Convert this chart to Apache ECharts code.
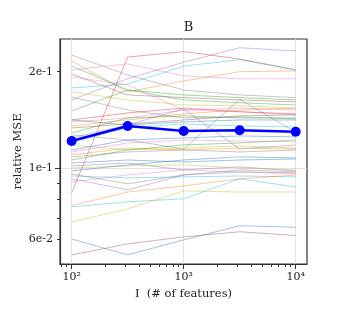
<!DOCTYPE html>
<html>
<head>
<meta charset="utf-8">
<script src="https://cdn.jsdelivr.net/npm/echarts@6/dist/echarts.min.js"></script>
<style>
html, body { margin: 0; padding: 0; background: #fff; }
#chart { width: 341px; height: 331px; }
</style>
</head>
<body>
<div id="chart"></div>
<script>
// x positions (number of features) and the mean curve
var featureCounts = [100, 316, 1000, 3162, 10000];
var meanMSE = [0.1216, 0.1354, 0.1307, 0.1313, 0.1300];

// individual runs, one row per thin line
var runs = [
  [0.2254, 0.1953, 0.1754, 0.1692, 0.1660],
  [0.2160, 0.1730, 0.1870, 0.2000, 0.2010],
  [0.0838, 0.2220, 0.2310, 0.2190, 0.2025],
  [0.2085, 0.1754, 0.1633, 0.1600, 0.1575],
  [0.2025, 0.2115, 0.1940, 0.1900, 0.1900],
  [0.1633, 0.1900, 0.2140, 0.2375, 0.2320],
  [0.1780, 0.1830, 0.2080, 0.2180, 0.2025],
  [0.1967, 0.1692, 0.1660, 0.1633, 0.1610],
  [0.1925, 0.1818, 0.1519, 0.1500, 0.1466],
  [0.1730, 0.1633, 0.1575, 0.1565, 0.1540],
  [0.1667, 0.1519, 0.1435, 0.1445, 0.1425],
  [0.1508, 0.1754, 0.1692, 0.1660, 0.1633],
  [0.1414, 0.1364, 0.1395, 0.1414, 0.1414],
  [0.1414, 0.1487, 0.1540, 0.1500, 0.1477],
  [0.1394, 0.1435, 0.1519, 0.1540, 0.1519],
  [0.1354, 0.1414, 0.1477, 0.1519, 0.1540],
  [0.1335, 0.1374, 0.1414, 0.1456, 0.1466],
  [0.1288, 0.1435, 0.1456, 0.1435, 0.1435],
  [0.1270, 0.1225, 0.1148, 0.1640, 0.1297],
  [0.1243, 0.1364, 0.1530, 0.1148, 0.1182],
  [0.1208, 0.1335, 0.1374, 0.1354, 0.1345],
  [0.1182, 0.1140, 0.1156, 0.1174, 0.1156],
  [0.1140, 0.1225, 0.1243, 0.1261, 0.1252],
  [0.1124, 0.1199, 0.1225, 0.1216, 0.1208],
  [0.1100, 0.1156, 0.1140, 0.1156, 0.1148],
  [0.1085, 0.1124, 0.1140, 0.1124, 0.1140],
  [0.1061, 0.1140, 0.1182, 0.1199, 0.1225],
  [0.1038, 0.1061, 0.1046, 0.1061, 0.1069],
  [0.1017, 0.1038, 0.0988, 0.1010, 0.0981],
  [0.1002, 0.1017, 0.1024, 0.1002, 0.0988],
  [0.0981, 0.1024, 0.1061, 0.1085, 0.1077],
  [0.0946, 0.0933, 0.0940, 0.0946, 0.0940],
  [0.0960, 0.0894, 0.0953, 0.0974, 0.0967],
  [0.0927, 0.0856, 0.0953, 0.0988, 0.0974],
  [0.0907, 0.0953, 0.0988, 0.0974, 0.0960],
  [0.0765, 0.0843, 0.0881, 0.0927, 0.0953],
  [0.0758, 0.0786, 0.0803, 0.0927, 0.0874],
  [0.0680, 0.0747, 0.0850, 0.0843, 0.0843],
  [0.0602, 0.0537, 0.0598, 0.0662, 0.0655],
  [0.0537, 0.0581, 0.0611, 0.0634, 0.0617]
];
var runColors = [
  '#7f7f7f', '#ff7f0e', '#d62728', '#2ca02c', '#e377c2', '#9467bd', '#17becf', '#8c564b',
  '#e377c2', '#bcbd22', '#7f7f7f', '#2ca02c', '#1f77b4', '#d62728', '#e377c2', '#ff7f0e',
  '#8c564b', '#2ca02c', '#7f7f7f', '#9467bd', '#17becf', '#bcbd22', '#1f77b4', '#e377c2',
  '#ff7f0e', '#7f7f7f', '#2ca02c', '#1f77b4', '#9467bd', '#bcbd22', '#1f77b4', '#17becf',
  '#7f7f7f', '#9467bd', '#e377c2', '#ff7f0e', '#17becf', '#bcbd22', '#1f77b4', '#8c564b'
];

// axis ranges and ticks
var xRange = [78.7, 12620];
var yRange = [0.0503, 0.2528];
var xMajorTicks = [100, 1000, 10000];
var xTickLabels = ['10\u00b2', '10\u00b3', '10\u2074'];
var xMinorTicks = [80, 90, 200, 300, 400, 500, 600, 700, 800, 900,
  2000, 3000, 4000, 5000, 6000, 7000, 8000, 9000];
var yGridTicks = [0.1];
var yLabelTicks = [0.06, 0.1, 0.2];
var yTickLabels = ['6e-2', '1e-1', '2e-1'];
var yMinorTicks = [0.06, 0.07, 0.08, 0.09, 0.2];

var lg = Math.log10;
var serif = 'DejaVu Serif';
var frame = '#333';

function pick(v, ticks, labels) {
  for (var i = 0; i < ticks.length; i++) {
    if (Math.abs(lg(ticks[i]) - v) < 1e-6) return labels[i];
  }
  return '';
}

function toPoints(ys) {
  return featureCounts.map(function (x, i) { return [lg(x), lg(ys[i])]; });
}

var series = runs.map(function (r, i) {
  return {
    type: 'line',
    data: toPoints(r),
    showSymbol: false,
    silent: true,
    animation: false,
    z: 2,
    lineStyle: { color: runColors[i], width: 0.8, opacity: 0.55 }
  };
});
series.push({
  type: 'line',
  data: toPoints(meanMSE),
  symbol: 'circle',
  symbolSize: 10,
  animation: false,
  z: 5,
  itemStyle: { color: '#0000ff' },
  lineStyle: { color: '#0000ff', width: 2.5 }
});

var chart = echarts.init(document.getElementById('chart'));
chart.setOption({
  backgroundColor: '#fff',
  title: {
    text: 'B', left: 183.5, top: 16, textAlign: 'center',
    textStyle: { fontFamily: serif, fontSize: 13, fontWeight: 'normal', color: '#222' }
  },
  grid: {
    left: 60, top: 39, width: 247, height: 225,
    outerBoundsMode: 'none', containLabel: false,
    show: true, borderColor: frame, borderWidth: 1.2
  },
  xAxis: [{
    type: 'value', min: lg(xRange[0]), max: lg(xRange[1]),
    name: 'I  (# of features)', nameLocation: 'middle', nameGap: 22,
    nameTextStyle: { fontFamily: serif, fontSize: 11.5, color: '#222' },
    axisLine: { lineStyle: { color: frame, width: 1.2 } },
    axisTick: { inside: false, length: 5, customValues: xMajorTicks.map(lg), lineStyle: { color: frame } },
    axisLabel: {
      customValues: xMajorTicks.map(lg), margin: 8,
      fontFamily: serif, fontSize: 11, color: '#222',
      formatter: function (v) { return pick(v, xMajorTicks, xTickLabels); }
    },
    splitLine: { show: true, lineStyle: { color: '#dcdcdc', width: 0.8 } }
  }, {
    type: 'value', position: 'bottom', min: lg(xRange[0]), max: lg(xRange[1]),
    axisLine: { show: false },
    axisTick: { inside: false, length: 3, customValues: xMinorTicks.map(lg), lineStyle: { color: frame } },
    axisLabel: { show: false },
    splitLine: { show: false }
  }],
  yAxis: [{
    type: 'value', min: lg(yRange[0]), max: lg(yRange[1]),
    name: 'relative MSE', nameLocation: 'middle', nameGap: 36, nameMoveOverlap: false,
    nameTextStyle: { fontFamily: serif, fontSize: 11.5, color: '#222' },
    axisLine: { show: true, lineStyle: { color: frame, width: 1.2 } },
    axisTick: { show: true, inside: false, length: 5, customValues: yGridTicks.map(lg), lineStyle: { color: frame } },
    axisLabel: {
      customValues: yLabelTicks.map(lg), margin: 7,
      fontFamily: serif, fontSize: 11, color: '#222',
      formatter: function (v) { return pick(v, yLabelTicks, yTickLabels); }
    },
    splitLine: { show: true, lineStyle: { color: '#dcdcdc', width: 0.8 } }
  }, {
    type: 'value', position: 'left', offset: 0, min: lg(yRange[0]), max: lg(yRange[1]),
    axisLine: { show: false },
    axisTick: { show: true, inside: false, length: 3, customValues: yMinorTicks.map(lg), lineStyle: { color: frame } },
    axisLabel: { show: false },
    splitLine: { show: false }
  }],
  series: series
});
</script>
</body>
</html>
